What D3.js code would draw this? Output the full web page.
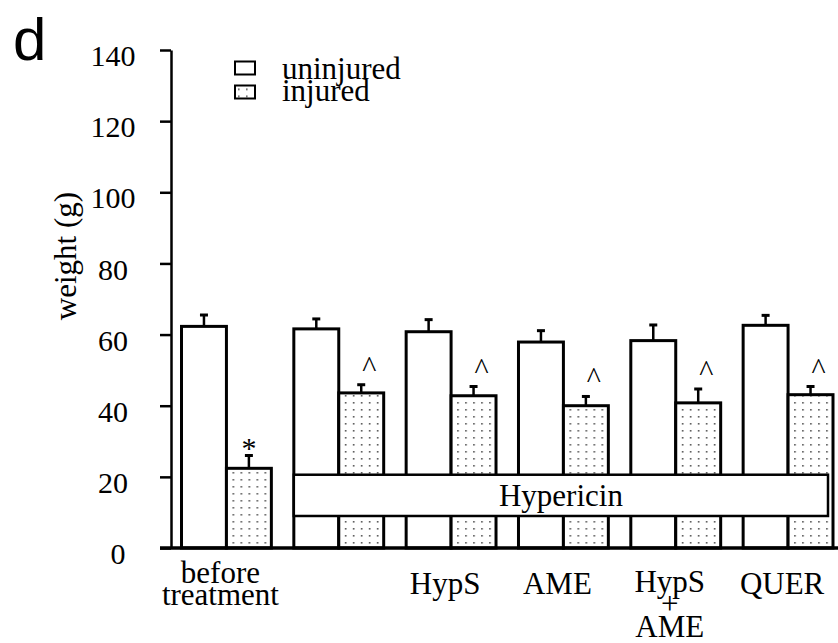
<!DOCTYPE html>
<html>
<head>
<meta charset="utf-8">
<script src="https://cdn.jsdelivr.net/npm/d3@7"></script>
<style>
  html, body { margin: 0; padding: 0; background: #fff; }
  svg { display: block; }
</style>
</head>
<body>
<svg id="chart" width="838" height="643"></svg>
<script>
// ---- data ----
const groups = ["before treatment", "Hypericin", "HypS", "AME", "HypS + AME", "QUER"];
const groupLabels = [["before", "treatment"], [], ["HypS"], ["AME"], ["HypS", "+", "AME"], ["QUER"]];
const seriesNames = ["uninjured", "injured"];
const uninjured = [62.3, 61.6, 60.8, 57.9, 58.3, 62.6];
const uninjuredErr = [3.2, 2.8, 3.4, 3.2, 4.4, 2.8];
const injured = [22.4, 43.6, 42.8, 40.0, 40.8, 43.1];
const injuredErr = [3.6, 2.3, 2.6, 2.6, 3.9, 2.3];
const injuredMarks = ["*", "^", "^", "^", "^", "^"];
const yTicks = [0, 20, 40, 60, 80, 100, 120, 140];
const bandLabel = "Hypericin";
const bandRange = [9, 20.6];       // weight units covered by the Hypericin box
const bandGroups = [1, 5];         // groups spanned by the box
const panelLetter = "d";
const yTitle = "weight (g)";

// ---- layout ----
const svg = d3.select("#chart");
const W = 838;
const serif = "'Liberation Serif', 'Times New Roman', serif";

const y = d3.scaleLinear().domain([0, 140]).range([548, 50]);
const x = d3.scaleBand().domain(d3.range(groups.length)).range([181.5, 833]).paddingInner(0.2).paddingOuter(0);
const xs = d3.scaleBand().domain(seriesNames).range([0, x.bandwidth()]).padding(0);

// pattern
const defs = svg.append("defs");
const pat = defs.append("pattern").attr("id", "dots")
  .attr("patternUnits", "userSpaceOnUse").attr("width", 8).attr("height", 7);
pat.append("rect").attr("width", 8).attr("height", 7).attr("fill", "#fff");
pat.append("rect").attr("x", 3).attr("y", 3).attr("width", 1.6).attr("height", 1.6).attr("fill", "#555");

const fills = { uninjured: "#fff", injured: "url(#dots)" };

const rows = groups.map((g, i) => ({
  i,
  vals: [
    { s: "uninjured", v: uninjured[i], e: uninjuredErr[i] },
    { s: "injured", v: injured[i], e: injuredErr[i], m: injuredMarks[i] }
  ]
}));

// bars
const gG = svg.append("g").selectAll("g").data(rows).join("g")
  .attr("transform", d => `translate(${x(d.i)},0)`);

gG.selectAll("rect.bar").data(d => d.vals).join("rect")
  .attr("class", "bar")
  .attr("x", d => xs(d.s))
  .attr("width", xs.bandwidth())
  .attr("y", d => y(d.v))
  .attr("height", d => y(0) - y(d.v))
  .attr("fill", d => fills[d.s])
  .attr("stroke", "#000")
  .attr("stroke-width", 3);

// error bars
gG.selectAll("line.err").data(d => d.vals).join("line")
  .attr("class", "err")
  .attr("x1", d => xs(d.s) + xs.bandwidth() / 2)
  .attr("x2", d => xs(d.s) + xs.bandwidth() / 2)
  .attr("y1", d => y(d.v))
  .attr("y2", d => y(d.v + d.e))
  .attr("stroke", "#000").attr("stroke-width", 2.5);
gG.selectAll("line.cap").data(d => d.vals).join("line")
  .attr("class", "cap")
  .attr("x1", d => xs(d.s) + xs.bandwidth() / 2 - 4)
  .attr("x2", d => xs(d.s) + xs.bandwidth() / 2 + 4)
  .attr("y1", d => y(d.v + d.e))
  .attr("y2", d => y(d.v + d.e))
  .attr("stroke", "#000").attr("stroke-width", 3);

// significance marks
gG.selectAll("text.mark").data(d => d.vals.filter(v => v.m)).join("text")
  .attr("class", "mark")
  .attr("x", d => xs(d.s) + xs.bandwidth() / 2 + (d.m === "^" ? 8 : 0))
  .attr("y", d => y(d.v + d.e) - (d.m === "^" ? 24 : 14) + 16)
  .attr("text-anchor", "middle")
  .attr("font-family", serif).attr("font-size", 30)
  .text(d => d.m);

// Hypericin box
const bx0 = x(bandGroups[0]);
const bx1 = x(bandGroups[1]) + x.bandwidth() - 5;
svg.append("rect")
  .attr("x", bx0).attr("width", bx1 - bx0)
  .attr("y", y(bandRange[1])).attr("height", y(bandRange[0]) - y(bandRange[1]))
  .attr("fill", "#fff").attr("stroke", "#000").attr("stroke-width", 2.5);
svg.append("text")
  .attr("x", (bx0 + bx1) / 2).attr("y", (y(bandRange[0]) + y(bandRange[1])) / 2 + 11)
  .attr("text-anchor", "middle")
  .attr("font-family", serif).attr("font-size", 31)
  .text(bandLabel);

// y axis
const yAxis = svg.append("g").attr("transform", "translate(171,0)")
  .call(d3.axisLeft(y).tickValues(yTicks).tickSize(11).tickSizeOuter(0));
yAxis.select(".domain").attr("stroke", "#000").attr("stroke-width", 2.5);
yAxis.selectAll(".tick line").attr("stroke", "#000").attr("stroke-width", 2.5);
yAxis.selectAll(".tick text")
  .attr("x", d => d === 0 ? -53 : -58).attr("y", 6).attr("text-anchor", "middle")
  .attr("font-family", serif).attr("font-size", 30).attr("fill", "#000");

// x axis line
svg.append("line")
  .attr("x1", 160).attr("x2", W).attr("y1", y(0)).attr("y2", y(0))
  .attr("stroke", "#000").attr("stroke-width", 3.5);

// x labels
const xl = svg.append("g").selectAll("text").data(groupLabels.map((l, i) => ({ l, i }))).join("text")
  .attr("text-anchor", "middle")
  .attr("font-family", serif).attr("font-size", 31)
  .attr("transform", d => {
    const n = d.l.length;
    const start = y(0) + 46 - (n === 2 ? 11.5 : 0) - (n === 3 ? 2.5 : 0);
    return `translate(${x(d.i) + x.bandwidth() / 2 - 6},${start})`;
  });
xl.selectAll("tspan").data(d => d.l).join("tspan")
  .attr("x", 0).attr("y", (d, k) => k * 22.5)
  .text(d => d);

// y title
svg.append("text")
  .attr("transform", "translate(76,256) rotate(-90)")
  .attr("text-anchor", "middle")
  .attr("font-family", serif).attr("font-size", 31)
  .text(yTitle);

// panel letter
svg.append("text")
  .attr("x", 13).attr("y", 60)
  .attr("font-family", "'Liberation Sans', Arial, sans-serif").attr("font-size", 60)
  .text(panelLetter);

// legend
const leg = svg.append("g").selectAll("g").data(seriesNames).join("g")
  .attr("transform", (d, i) => `translate(235,${61.5 + i * 24})`);
leg.append("rect").attr("width", 20).attr("height", 13)
  .attr("fill", d => fills[d]).attr("stroke", "#000").attr("stroke-width", 2);
leg.append("text").attr("x", 47).attr("y", (d, i) => 17 - i * 1.5)
  .attr("font-family", serif).attr("font-size", 31)
  .text(d => d);
</script>
</body>
</html>
